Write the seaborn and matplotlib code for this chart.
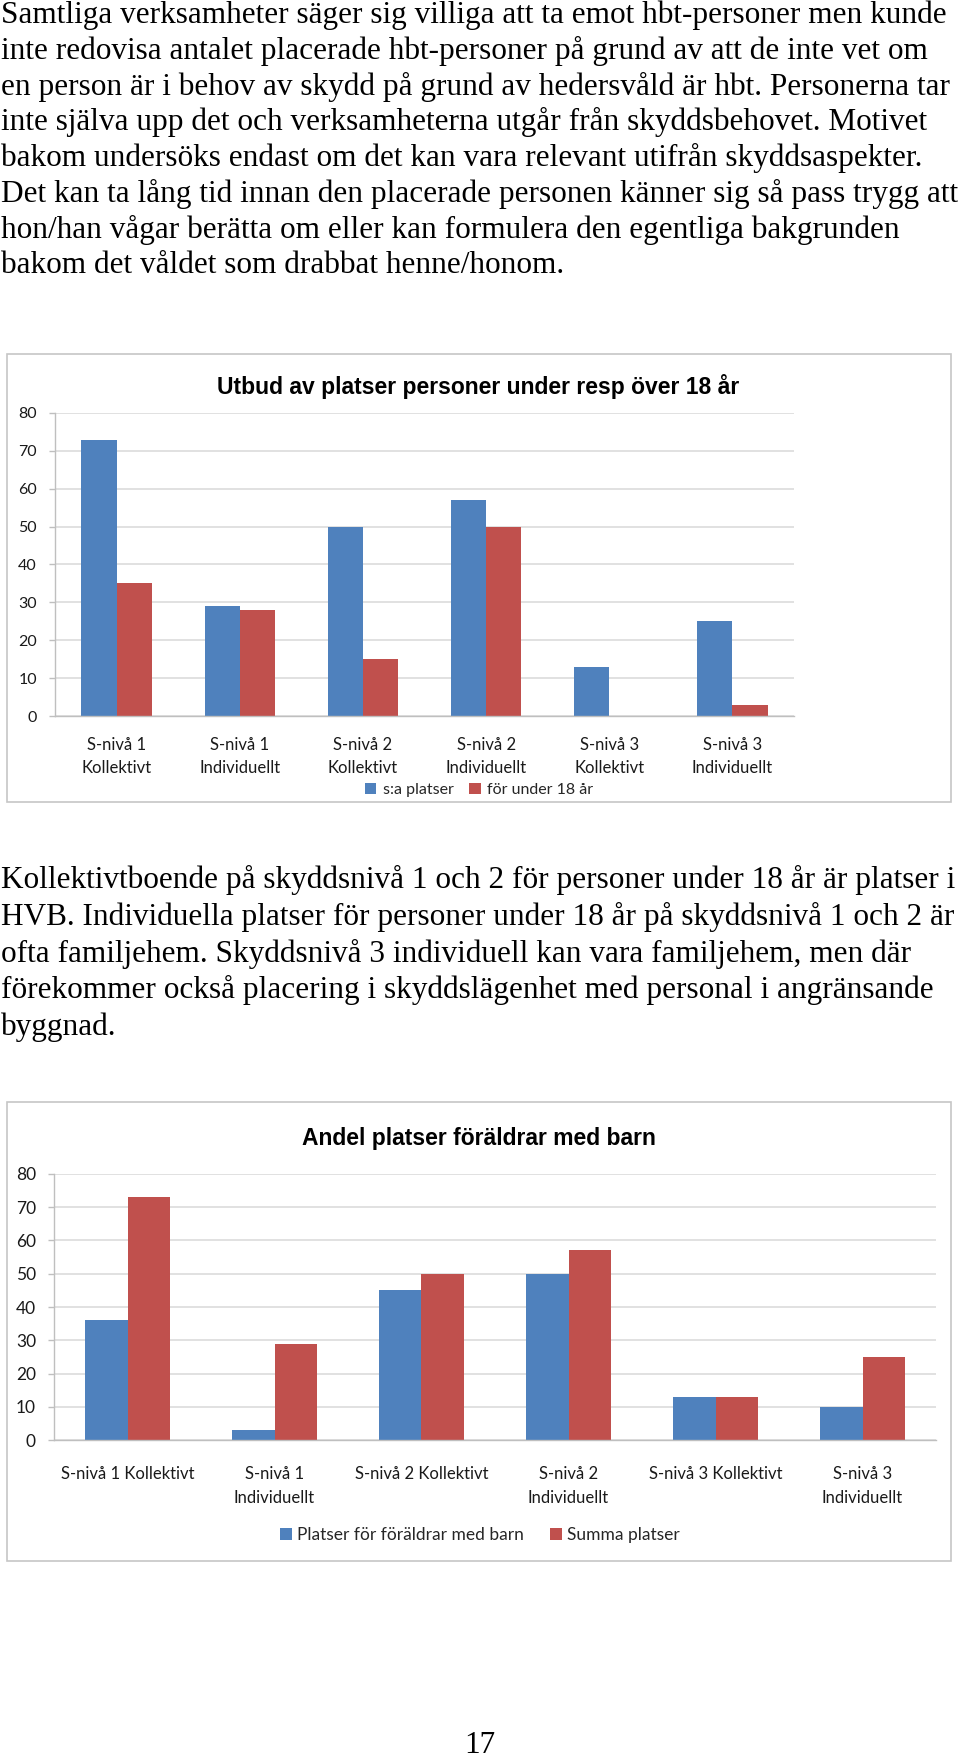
import matplotlib
matplotlib.use("Agg")
import matplotlib.pyplot as plt
from matplotlib.patches import Rectangle, Patch
import seaborn as sns
import pandas as pd

# ---------------- data ----------------
para1_lines = [
    "Samtliga verksamheter säger sig villiga att ta emot hbt-personer men kunde",
    "inte redovisa antalet placerade hbt-personer på grund av att de inte vet om",
    "en person är i behov av skydd på grund av hedersvåld är hbt. Personerna tar",
    "inte själva upp det och verksamheterna utgår från skyddsbehovet. Motivet",
    "bakom undersöks endast om det kan vara relevant utifrån skyddsaspekter.",
    "Det kan ta lång tid innan den placerade personen känner sig så pass trygg att",
    "hon/han vågar berätta om eller kan formulera den egentliga bakgrunden",
    "bakom det våldet som drabbat henne/honom.",
]
para2_lines = [
    "Kollektivtboende på skyddsnivå 1 och 2 för personer under 18 år är platser i",
    "HVB. Individuella platser för personer under 18 år på skyddsnivå 1 och 2 är",
    "ofta familjehem. Skyddsnivå 3 individuell kan vara familjehem, men där",
    "förekommer också placering i skyddslägenhet med personal i angränsande",
    "byggnad.",
]
page_number = "17"

categories = ["S-nivå 1 Kollektivt", "S-nivå 1 Individuellt", "S-nivå 2 Kollektivt",
              "S-nivå 2 Individuellt", "S-nivå 3 Kollektivt", "S-nivå 3 Individuellt"]

chart1_title = "Utbud av platser personer under resp över 18 år"
chart1_series = ["s:a platser", "för under 18 år"]
chart1_total = [73, 29, 50, 57, 13, 25]
chart1_under18 = [35, 28, 15, 50, 0, 3]
chart1_ticklabels = ["S-nivå 1\nKollektivt", "S-nivå 1\nIndividuellt", "S-nivå 2\nKollektivt",
                     "S-nivå 2\nIndividuellt", "S-nivå 3\nKollektivt", "S-nivå 3\nIndividuellt"]

chart2_title = "Andel platser föräldrar med barn"
chart2_series = ["Platser för föräldrar med barn", "Summa platser"]
chart2_parents = [36, 3, 45, 50, 13, 10]
chart2_sum = [73, 29, 50, 57, 13, 25]
chart2_ticklabels = ["S-nivå 1 Kollektivt", "S-nivå 1\nIndividuellt", "S-nivå 2 Kollektivt",
                     "S-nivå 2\nIndividuellt", "S-nivå 3 Kollektivt", "S-nivå 3\nIndividuellt"]

yticks = [0, 10, 20, 30, 40, 50, 60, 70, 80]

BLUE = "#4F81BD"
RED = "#C0504D"

# ---------------- figure ----------------
sns.set_theme(style="white")
plt.rcParams["font.family"] = ["Lato", "DejaVu Sans"]

W, H = 960, 1760
fig = plt.figure(figsize=(W / 100, H / 100), dpi=100)
fig.patch.set_facecolor("white")


def fx(x):
    return x / W


def fy(y):
    return 1 - y / H


SERIF = ["Liberation Serif", "DejaVu Serif"]
NARROW = ["Liberation Sans Narrow", "Liberation Sans", "DejaVu Sans"]

# paragraph 1
for i, line in enumerate(para1_lines):
    fig.text(fx(1), fy(15 + i * 35.8), line, family=SERIF, fontsize=22.5,
             va="center", ha="left", color="black")
# paragraph 2
for i, line in enumerate(para2_lines):
    fig.text(fx(1), fy(880 + i * 36.8), line, family=SERIF, fontsize=22.5,
             va="center", ha="left", color="black")
fig.text(fx(480), fy(1745), page_number, family=SERIF, fontsize=22.5,
         va="center", ha="center", color="black")

# boxes
for (x0, y0, x1, y1) in [(7, 354, 951, 802), (7, 1102, 951, 1561)]:
    fig.patches.append(Rectangle((fx(x0), fy(y1)), fx(x1) - fx(x0), fy(y0) - fy(y1),
                                 transform=fig.transFigure, fill=False,
                                 edgecolor="#c6c6c6", linewidth=1.2, zorder=0))


def draw_chart(ax, series_names, vals_a, vals_b, ticklabels, tick_fs, label_fs,
               linespacing, pad):
    df = pd.DataFrame({
        "cat": categories * 2,
        "val": list(vals_a) + list(vals_b),
        "series": [series_names[0]] * len(categories) + [series_names[1]] * len(categories),
    })
    sns.barplot(data=df, x="cat", y="val", hue="series", order=categories,
                hue_order=series_names, palette=[BLUE, RED], saturation=1,
                width=0.572, gap=0, linewidth=0, ax=ax, legend=False)
    ax.set_xlim(-0.5, len(categories) - 0.5)
    ax.set_ylim(0, 80)
    ax.set_yticks(yticks)
    ax.set_yticklabels([str(t) for t in yticks], fontsize=tick_fs, color="#1a1a1a")
    ax.yaxis.grid(True, color="#d9d9d9", linewidth=1.1)
    ax.set_axisbelow(True)
    ax.set_xlabel("")
    ax.set_ylabel("")
    ax.set_xticks(range(len(categories)))
    ax.set_xticklabels(ticklabels, fontsize=label_fs, color="#1a1a1a",
                       linespacing=linespacing)
    ax.set_xticks([i - 0.5 for i in range(len(categories) + 1)], minor=True)
    ax.tick_params(axis="x", which="major", length=0, pad=pad)
    ax.tick_params(axis="x", which="minor", length=5, color="#bfbfbf", width=1, direction="out")
    ax.tick_params(axis="y", which="major", length=4, color="#bfbfbf", width=1,
                   direction="out", pad=9, left=True)
    for s in ["top", "right"]:
        ax.spines[s].set_visible(False)
    for s in ["left", "bottom"]:
        ax.spines[s].set_visible(True)
        ax.spines[s].set_color("#bfbfbf")
        ax.spines[s].set_linewidth(1)
    ax.set_facecolor("white")


# chart 1
ax1 = fig.add_axes([fx(55), fy(716), fx(794) - fx(55), fy(413) - fy(716)])
draw_chart(ax1, chart1_series, chart1_total, chart1_under18, chart1_ticklabels,
           tick_fs=11.5, label_fs=12, linespacing=1.55, pad=15)
fig.text(fx(478), fy(386), chart1_title, family=NARROW, fontweight="bold",
         fontsize=16.5, ha="center", va="center", color="black")
h1 = [Patch(facecolor=BLUE, edgecolor="none", label=chart1_series[0]),
      Patch(facecolor=RED, edgecolor="none", label=chart1_series[1])]
fig.legend(handles=h1, loc="center", bbox_to_anchor=(fx(479), fy(790)), ncol=2,
           frameon=False, fontsize=11.5, handlelength=0.7, handleheight=0.7,
           handletextpad=0.4, columnspacing=1.0, borderpad=0)

# chart 2
ax2 = fig.add_axes([fx(54), fy(1440), fx(936) - fx(54), fy(1174) - fy(1440)])
draw_chart(ax2, chart2_series, chart2_parents, chart2_sum, chart2_ticklabels,
           tick_fs=12.5, label_fs=12, linespacing=1.55, pad=19)
fig.text(fx(479), fy(1138), chart2_title, family=NARROW, fontweight="bold",
         fontsize=16.5, ha="center", va="center", color="black")
h2 = [Patch(facecolor=BLUE, edgecolor="none", label=chart2_series[0]),
      Patch(facecolor=RED, edgecolor="none", label=chart2_series[1])]
fig.legend(handles=h2, loc="center", bbox_to_anchor=(fx(480), fy(1535)), ncol=2,
           frameon=False, fontsize=12.5, handlelength=0.7, handleheight=0.7,
           handletextpad=0.3, columnspacing=1.5, borderpad=0)

fig.savefig("out.png", dpi=100, facecolor="white")
